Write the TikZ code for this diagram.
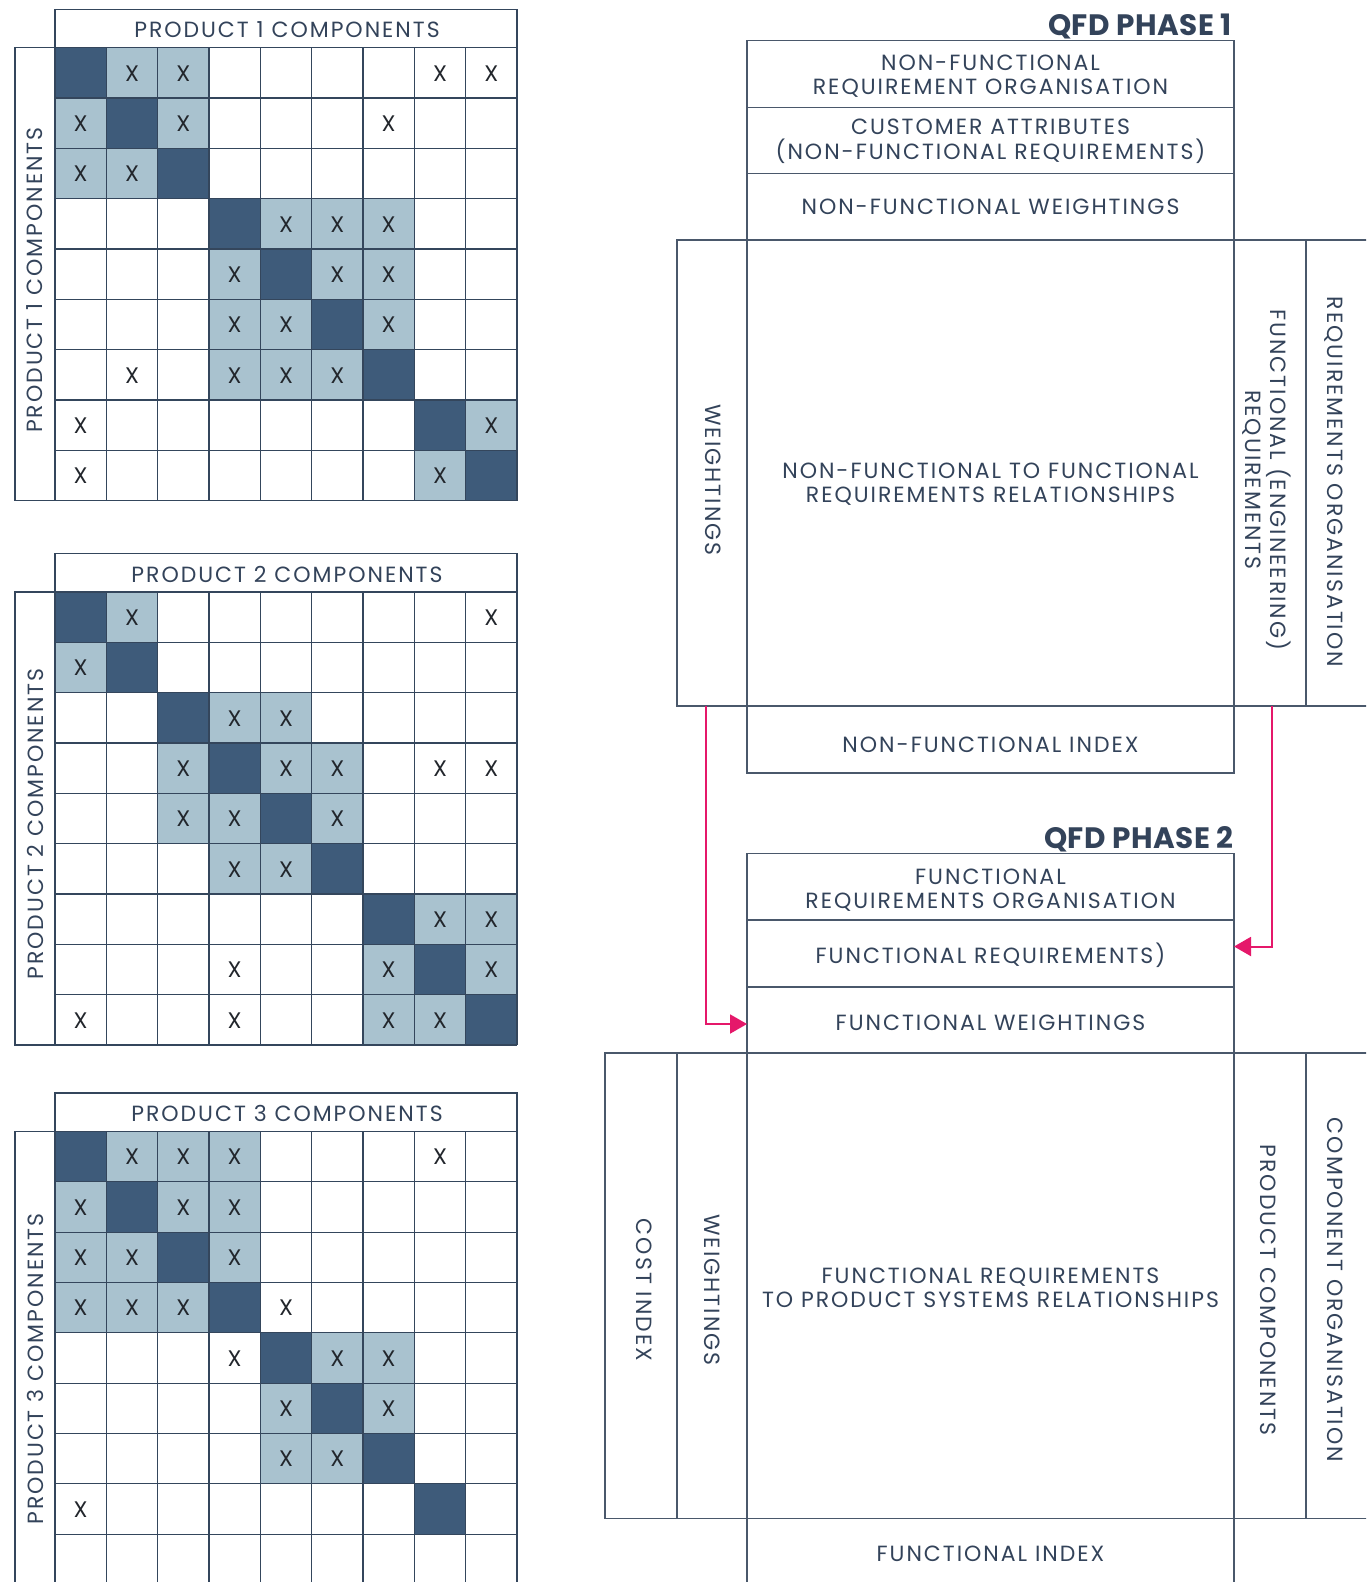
\documentclass[tikz,border=0pt]{standalone}
\usepackage{fontspec}
\setmainfont{Poppins}[LetterSpace=9]
\newfontfamily\qtitlefont{Poppins}[LetterSpace=1.5]
\usetikzlibrary{arrows.meta}
\definecolor{darkcell}{HTML}{3E5B7A}
\definecolor{lightcell}{HTML}{A9C2CF}
\definecolor{gridline}{HTML}{34465C}
\definecolor{boxline}{HTML}{4A586B}
\definecolor{txt}{HTML}{33435A}
\definecolor{xcol}{HTML}{22262C}
\definecolor{pinkarrow}{HTML}{E5186A}
\tikzset{
  gridln/.style={draw=gridline, line width=1.3pt},
  qbox/.style={draw=boxline, line width=1.3pt, rectangle, inner sep=0pt, outer sep=0pt},
  lbl/.style={text=txt, font=\fontsize{22}{24.5}\selectfont, align=center, inner sep=0pt},
  ttl/.style={text=txt, font=\qtitlefont\fontsize{29.5}{31}\selectfont\bfseries, inner sep=0pt},
  xmark/.style={text=xcol, font=\fontsize{22.5}{24}\selectfont, inner sep=0pt},
  arr/.style={draw=pinkarrow, line width=2pt, -{Triangle[length=17pt,width=19pt]}},
}
\newcommand\qbx[5]{\node[qbox, anchor=north west, minimum width={(#4)-(#2)}, minimum height={(#5)-(#3)}] (#1) at (#2,#3) {};}
% matrix: id, top, title, side-label centre y, cells
\newcommand\qmatrix[5]{%
  \foreach \r/\c/\t in {#5}{%
    \pgfmathsetmacro\xa{55+(\c-1)*51.333}
    \pgfmathsetmacro\ya{#2+38.5+(\r-1)*50.333}
    \if\t d\fill[darkcell] (\xa,\ya) rectangle ++(51.333,50.333);\fi
    \if\t l\fill[lightcell] (\xa,\ya) rectangle ++(51.333,50.333);
      \node[xmark] (#1-\r-\c) at (\xa+25.67,\ya+25.6) {X};\fi
    \if\t x\node[xmark] (#1-\r-\c) at (\xa+25.67,\ya+25.6) {X};\fi
  }
  \foreach \i in {0,...,9}{
    \draw[gridln] (55+\i*51.333,#2+38.5) -- ++(0,453);
    \draw[gridln] (55,#2+38.5+\i*50.333) -- ++(462,0);
  }
  \draw[gridln] (55,#2) rectangle (517,#2+38.5);
  \draw[gridln] (15,#2+38.5) rectangle (55,#2+491.5);
  \node[lbl] (#1-title) at (287,#2+20.5) {#3};
  \node[lbl, rotate=90] (#1-side) at (35,#4) {#3};
}
\begin{document}
\begin{tikzpicture}[x=1pt,y=-1pt]
\useasboundingbox (0,0) rectangle (1366,1582);
\fill[white] (0,0) rectangle (1366,1582);
\clip (0,0) rectangle (1366,1582);

\qmatrix{ma}{9.3}{PRODUCT 1 COMPONENTS}{280}{1/1/d,1/2/l,1/3/l,1/8/x,1/9/x,2/1/l,2/2/d,2/3/l,2/7/x,3/1/l,3/2/l,3/3/d,4/4/d,4/5/l,4/6/l,4/7/l,5/4/l,5/5/d,5/6/l,5/7/l,6/4/l,6/5/l,6/6/d,6/7/l,7/2/x,7/4/l,7/5/l,7/6/l,7/7/d,8/1/x,8/8/d,8/9/l,9/1/x,9/8/l,9/9/d}
\qmatrix{mb}{553.5}{PRODUCT 2 COMPONENTS}{824}{1/1/d,1/2/l,1/9/x,2/1/l,2/2/d,3/3/d,3/4/l,3/5/l,4/3/l,4/4/d,4/5/l,4/6/l,4/8/x,4/9/x,5/3/l,5/4/l,5/5/d,5/6/l,6/4/l,6/5/l,6/6/d,7/7/d,7/8/l,7/9/l,8/4/x,8/7/l,8/8/d,8/9/l,9/1/x,9/4/x,9/7/l,9/8/l,9/9/d}
\qmatrix{mc}{1093}{PRODUCT 3 COMPONENTS}{1369}{1/1/d,1/2/l,1/3/l,1/4/l,1/8/x,2/1/l,2/2/d,2/3/l,2/4/l,3/1/l,3/2/l,3/3/d,3/4/l,4/1/l,4/2/l,4/3/l,4/4/d,4/5/x,5/4/x,5/5/d,5/6/l,5/7/l,6/5/l,6/6/d,6/7/l,7/5/l,7/6/l,7/7/d,8/1/x,8/8/d}

% ---------- QFD phase 1 ----------
\node[ttl, anchor=base east] (t1) at (1232,35) {QFD PHASE 1};
\qbx{p1a}{747}{40.5}{1234}{107.5}
\qbx{p1b}{747}{107.5}{1234}{173.5}
\qbx{p1c}{747}{173.5}{1234}{240}
\qbx{p1m}{747}{240}{1234}{706}
\qbx{p1w}{677}{240}{747}{706}
\qbx{p1r}{1234}{240}{1306}{706}
\qbx{p1o}{1306}{240}{1385}{706}
\qbx{p1i}{747}{706}{1234}{773}
\node[lbl] (l1a) at (990.5,76) {NON-FUNCTIONAL\\REQUIREMENT ORGANISATION};
\node[lbl] (l1b) at (990.5,141.5) {CUSTOMER ATTRIBUTES\\(NON-FUNCTIONAL REQUIREMENTS)};
\node[lbl] (l1c) at (990.5,207) {NON-FUNCTIONAL WEIGHTINGS};
\node[lbl] (l1m) at (990.5,484) {NON-FUNCTIONAL TO FUNCTIONAL\\REQUIREMENTS RELATIONSHIPS};
\node[lbl, rotate=-90] (l1w) at (713,480) {WEIGHTINGS};
\node[lbl, rotate=-90] (l1r) at (1267,480) {FUNCTIONAL (ENGINEERING)\\REQUIREMENTS};
\node[lbl, rotate=-90] (l1o) at (1334,482) {REQUIREMENTS ORGANISATION};
\node[lbl] (l1i) at (990.5,745) {NON-FUNCTIONAL INDEX};

% ---------- QFD phase 2 ----------
\node[ttl, anchor=base east] (t2) at (1234,848) {QFD PHASE 2};
\qbx{p2a}{747}{853.5}{1234}{920}
\qbx{p2b}{747}{920}{1234}{987}
\qbx{p2c}{747}{987}{1234}{1053}
\qbx{p2m}{747}{1053}{1234}{1518.5}
\qbx{p2k}{605}{1053}{677}{1518.5}
\qbx{p2w}{677}{1053}{747}{1518.5}
\qbx{p2r}{1234}{1053}{1306}{1518.5}
\qbx{p2o}{1306}{1053}{1385}{1518.5}
\qbx{p2i}{747}{1518.5}{1234}{1600}
\node[lbl] (l2a) at (990.5,890) {FUNCTIONAL\\REQUIREMENTS ORGANISATION};
\node[lbl] (l2b) at (990.5,955) {FUNCTIONAL REQUIREMENTS)};
\node[lbl] (l2c) at (990.5,1023) {FUNCTIONAL WEIGHTINGS};
\node[lbl] (l2m) at (990.5,1288) {FUNCTIONAL REQUIREMENTS\\TO PRODUCT SYSTEMS RELATIONSHIPS};
\node[lbl, rotate=-90] (l2k) at (644,1290) {COST INDEX};
\node[lbl, rotate=-90] (l2w) at (712,1290) {WEIGHTINGS};
\node[lbl, rotate=-90] (l2r) at (1268,1290) {PRODUCT COMPONENTS};
\node[lbl, rotate=-90] (l2o) at (1335,1290) {COMPONENT ORGANISATION};
\node[lbl] (l2i) at (990.5,1554) {FUNCTIONAL INDEX};

% ---------- arrows ----------
\draw[arr] ([xshift=-6pt]p1w.south) |- ([yshift=-4pt]p2c.west);
\draw[arr] ([xshift=1.5pt]p1r.south) |- ([yshift=7pt]p2b.east);
\end{tikzpicture}
\end{document}
